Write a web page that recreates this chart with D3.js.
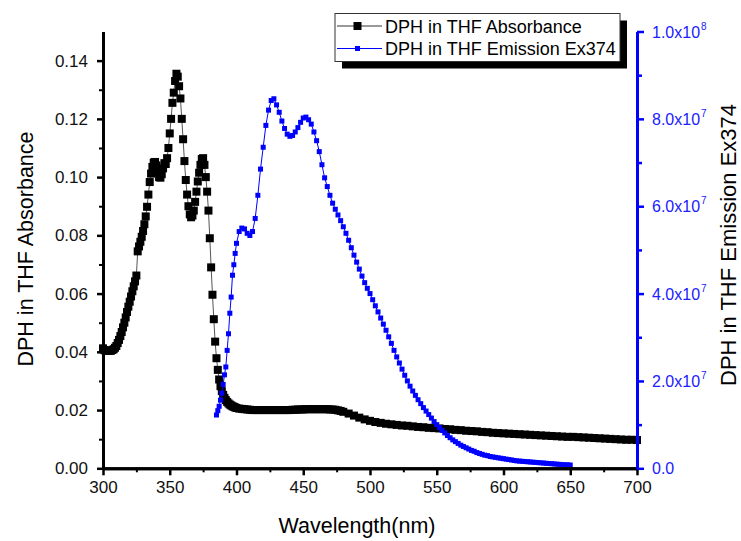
<!DOCTYPE html>
<html>
<head>
<meta charset="utf-8">
<script src="https://cdn.jsdelivr.net/npm/d3@7"></script>
<style>
  body { margin: 0; background: #fff; }
  text { font-family: "Liberation Sans", Arial, sans-serif; }
</style>
</head>
<body>
<svg></svg>
<script>
const width = 741;
const height = 541;

// absorbance: 1 nm steps 300-399, 2 nm steps 400-478, 4 nm steps 480-700
const absWavelength = [...d3.range(300, 400, 1), ...d3.range(400, 480, 2), ...d3.range(480, 701, 4)];
const absValues = [
  0.0412, 0.0406, 0.0404, 0.0403, 0.0403, 0.0403, 0.0404, 0.0406, 0.0409, 0.0414,
  0.0420, 0.0430, 0.0441, 0.0454, 0.0468, 0.0484, 0.0500, 0.0518, 0.0537, 0.0555,
  0.0572, 0.0590, 0.0608, 0.0625, 0.0642, 0.0662, 0.0745, 0.0762, 0.0778, 0.0795,
  0.0815, 0.0838, 0.0865, 0.0898, 0.0940, 0.0983, 0.1012, 0.1035, 0.1050, 0.1052,
  0.1040, 0.1018, 0.1000, 0.0998, 0.1010, 0.1030, 0.1048, 0.1045, 0.1065, 0.1100,
  0.1150, 0.1200, 0.1255, 0.1290, 0.1330, 0.1355, 0.1345, 0.1312, 0.1270, 0.1200,
  0.1130, 0.1055, 0.0990, 0.0940, 0.0900, 0.0872, 0.0862, 0.0868, 0.0885, 0.0915,
  0.0950, 0.0985, 0.1015, 0.1042, 0.1062, 0.1065, 0.1042, 0.1000, 0.0950, 0.0885,
  0.0790, 0.0690, 0.0596, 0.0512, 0.0435, 0.0378, 0.0338, 0.0305, 0.0282, 0.0265,
  0.0252, 0.0242, 0.0234, 0.0228, 0.0223, 0.0219, 0.0216, 0.0213, 0.0211, 0.0209,
  // 400 - 478
  0.0207, 0.0205, 0.0204, 0.0203, 0.0202, 0.0201, 0.0200, 0.0200, 0.0200, 0.0200,
  0.0200, 0.0200, 0.0200, 0.0200, 0.0200, 0.0200, 0.0200, 0.0200, 0.0200, 0.0200,
  0.0200, 0.0201, 0.0201, 0.0202, 0.0202, 0.0202, 0.0203, 0.0203, 0.0203, 0.0203,
  0.0203, 0.0203, 0.0203, 0.0203, 0.0203, 0.0202, 0.0202, 0.0201, 0.0199, 0.0197,
  // 480 - 700
  0.0194, 0.0188, 0.0181, 0.0174, 0.0168, 0.0163, 0.0159, 0.0156, 0.0153, 0.0151,
  0.0149, 0.0147, 0.0146, 0.0144, 0.0142, 0.0141, 0.0139, 0.0138, 0.0137, 0.0135,
  0.0134, 0.0132, 0.0131, 0.0129, 0.0128, 0.0127, 0.0125, 0.0124, 0.0122, 0.0121,
  0.0120, 0.0119, 0.0118, 0.0117, 0.0116, 0.0115, 0.0114, 0.0113, 0.0112, 0.0111,
  0.0110, 0.0109, 0.0108, 0.0108, 0.0107, 0.0106, 0.0105, 0.0104, 0.0103, 0.0102,
  0.0101, 0.0100, 0.0099, 0.0098, 0.0098, 0.0097
];

// emission (x10^7 counts): 1 nm steps 385-400, 2 nm steps 402-650
const emWavelength = [...d3.range(385, 401, 1), ...d3.range(402, 651, 2)];
const emValues = [
  1.22, 1.32, 1.42, 1.56, 1.72, 1.92, 2.14, 2.32, 2.70, 3.08, 3.55, 3.92, 4.42, 4.66, 4.92, 5.15,
  5.42, 5.50, 5.48, 5.38, 5.33, 5.42, 5.72, 6.25, 6.85, 7.35,
  7.85, 8.20, 8.42, 8.46, 8.32, 8.15, 7.95, 7.78, 7.65, 7.60,
  7.62, 7.70, 7.80, 7.92, 8.02, 8.04, 7.98, 7.88, 7.70, 7.50,
  7.25, 6.95, 6.65, 6.45, 6.25, 6.07, 5.93, 5.80, 5.67, 5.53,
  5.38, 5.22, 5.05, 4.88, 4.72, 4.56, 4.40, 4.25, 4.12, 4.00,
  3.86, 3.72, 3.58, 3.44, 3.30, 3.16, 3.01, 2.86, 2.70, 2.55,
  2.41, 2.27, 2.13, 2.00, 1.88, 1.77, 1.67, 1.57, 1.48, 1.39,
  1.31, 1.23, 1.15, 1.07, 1.00, 0.93, 0.87, 0.81, 0.75, 0.70,
  0.65, 0.61, 0.57, 0.53, 0.50, 0.47, 0.44, 0.41, 0.39, 0.36,
  0.34, 0.32, 0.30, 0.29, 0.27, 0.26, 0.25, 0.24, 0.23, 0.22,
  0.21, 0.20, 0.19, 0.18, 0.17, 0.165, 0.16, 0.155, 0.15, 0.145,
  0.14, 0.135, 0.13, 0.125, 0.12, 0.115, 0.11, 0.105, 0.10, 0.095,
  0.09, 0.085, 0.08, 0.08, 0.075
];

// tick values
const xTicks = [300, 350, 400, 450, 500, 550, 600, 650, 700];
const yTicks = [0, 0.02, 0.04, 0.06, 0.08, 0.10, 0.12, 0.14];
const y2Ticks = [0, 2e7, 4e7, 6e7, 8e7, 1e8];
const y2Labels = [["0.0", ""], ["2.0x10", "7"], ["4.0x10", "7"], ["6.0x10", "7"], ["8.0x10", "7"], ["1.0x10", "8"]];

const seriesNames = ["DPH in THF Absorbance", "DPH in THF Emission Ex374"];

const blue = "#0000ff";

const svg = d3.select("svg")
  .attr("width", width)
  .attr("height", height);

const plotLeft = 103, plotRight = 637, plotTop = 31.5, plotBottom = 468.3;

const x = d3.scaleLinear().domain([300, 700]).range([plotLeft, plotRight]);
const y = d3.scaleLinear().domain([0, 0.15]).range([plotBottom, plotTop]);
const y2 = d3.scaleLinear().domain([0, 1e8]).range([plotBottom, plotTop]);

const absData = absWavelength.map((w, i) => ({ w: w, v: absValues[i] }));
const emData = emWavelength.map((w, i) => ({ w: w, v: emValues[i] * 1e7 }));

// absorbance line + squares
svg.append("path")
  .datum(absData)
  .attr("fill", "none")
  .attr("stroke", "#555")
  .attr("stroke-width", 1)
  .attr("d", d3.line().x(d => x(d.w)).y(d => y(d.v)));

const absSize = 8;
svg.append("g").selectAll("rect")
  .data(absData)
  .enter().append("rect")
  .attr("x", d => x(d.w) - absSize / 2)
  .attr("y", d => y(d.v) - absSize / 2)
  .attr("width", absSize)
  .attr("height", absSize)
  .attr("fill", "#000");

// emission line + squares
svg.append("path")
  .datum(emData)
  .attr("fill", "none")
  .attr("stroke", blue)
  .attr("stroke-width", 1)
  .attr("d", d3.line().x(d => x(d.w)).y(d => y2(d.v)));

const emSize = 5;
svg.append("g").selectAll("rect")
  .data(emData)
  .enter().append("rect")
  .attr("x", d => x(d.w) - emSize / 2)
  .attr("y", d => y2(d.v) - emSize / 2)
  .attr("width", emSize)
  .attr("height", emSize)
  .attr("fill", blue);

// axes
function styleAxis(g, color, sw) {
  g.select(".domain").attr("stroke", color).attr("stroke-width", 3);
  g.selectAll(".tick line").attr("stroke", color).attr("stroke-width", sw);
}

// bottom
const xMinor = svg.append("g")
  .attr("transform", `translate(0, ${plotBottom})`)
  .call(d3.axisBottom(x).tickValues(d3.range(325, 700, 50)).tickSize(4).tickSizeOuter(0).tickFormat(""));
styleAxis(xMinor, "#000", 2);

const xAxis = svg.append("g")
  .attr("transform", `translate(0, ${plotBottom})`)
  .call(d3.axisBottom(x).tickValues(xTicks).tickSize(7).tickSizeOuter(0).tickPadding(6));
styleAxis(xAxis, "#000", 2.5);
xAxis.selectAll(".tick text").attr("font-size", "17px").attr("fill", "#111").attr("font-family", null);

// left
const yMinor = svg.append("g")
  .attr("transform", `translate(${plotLeft}, 0)`)
  .call(d3.axisLeft(y).tickValues([0.01, 0.03, 0.05, 0.07, 0.09, 0.11, 0.13]).tickSize(4).tickSizeOuter(0).tickFormat(""));
styleAxis(yMinor, "#000", 2);

const yAxis = svg.append("g")
  .attr("transform", `translate(${plotLeft}, 0)`)
  .call(d3.axisLeft(y).tickValues(yTicks).tickSize(6).tickSizeOuter(0).tickPadding(9).tickFormat(d3.format(".2f")));
styleAxis(yAxis, "#000", 2.5);
yAxis.selectAll(".tick text").attr("font-size", "17px").attr("fill", "#111").attr("font-family", null);

// right (blue)
const y2Minor = svg.append("g")
  .attr("transform", `translate(${plotRight}, 0)`)
  .call(d3.axisRight(y2).tickValues([1e7, 3e7, 5e7, 7e7, 9e7]).tickSize(5).tickSizeOuter(0).tickFormat(""));
styleAxis(y2Minor, blue, 2.5);

const y2Axis = svg.append("g")
  .attr("transform", `translate(${plotRight}, 0)`)
  .call(d3.axisRight(y2).tickValues(y2Ticks).tickSize(7).tickSizeOuter(0).tickFormat(""));
styleAxis(y2Axis, blue, 2.5);

y2Ticks.forEach((t, i) => {
  const label = svg.append("text")
    .attr("x", plotRight + 15)
    .attr("y", y2(t) + 6)
    .attr("font-size", "16px")
    .attr("fill", "#2020ff")
    .text(y2Labels[i][0]);
  if (y2Labels[i][1]) {
    label.append("tspan")
      .attr("dx", 1)
      .attr("dy", -8)
      .attr("font-size", "10px")
      .text(y2Labels[i][1]);
  }
});

// axis titles
svg.append("text")
  .attr("x", 357)
  .attr("y", 533)
  .attr("text-anchor", "middle")
  .attr("font-size", "21.5px")
  .text("Wavelength(nm)");

svg.append("text")
  .attr("transform", `translate(33, 249) rotate(-90)`)
  .attr("text-anchor", "middle")
  .attr("font-size", "21.5px")
  .text("DPH in THF Absorbance");

svg.append("text")
  .attr("transform", `translate(736, 245) rotate(-90)`)
  .attr("text-anchor", "middle")
  .attr("font-size", "22px")
  .text("DPH in THF Emission Ex374");

// legend with shadow
const legend = svg.append("g").attr("transform", "translate(335, 13.5)");
legend.append("rect")
  .attr("x", 7).attr("y", 7)
  .attr("width", 285).attr("height", 48)
  .attr("fill", "#000");
legend.append("rect")
  .attr("width", 285).attr("height", 48)
  .attr("fill", "#fff")
  .attr("stroke", "#333")
  .attr("stroke-width", 1);

const legendItems = [
  { name: seriesNames[0], color: "#000", line: "#333", size: 8 },
  { name: seriesNames[1], color: blue, line: blue, size: 5 }
];
legendItems.forEach((d, i) => {
  const cy = 12.5 + i * 22.5;
  legend.append("line")
    .attr("x1", 2).attr("x2", 47)
    .attr("y1", cy).attr("y2", cy)
    .attr("stroke", d.line)
    .attr("stroke-width", 1);
  legend.append("rect")
    .attr("x", 22.5 - d.size / 2)
    .attr("y", cy - d.size / 2)
    .attr("width", d.size)
    .attr("height", d.size)
    .attr("fill", d.color);
  legend.append("text")
    .attr("x", 50)
    .attr("y", cy + 6.5)
    .attr("font-size", "18px")
    .text(d.name);
});
</script>
</body>
</html>
